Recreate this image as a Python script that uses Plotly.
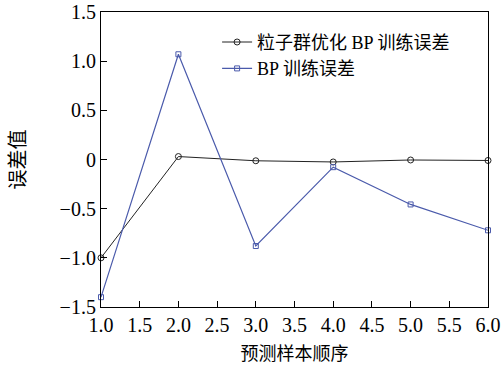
import plotly.graph_objects as go

x_vals = [1, 2, 3, 4, 5, 6]
pso_bp_err = [-1.0, 0.03, -0.013, -0.025, -0.005, -0.01]
bp_err = [-1.40, 1.07, -0.88, -0.078, -0.457, -0.72]
name_pso = "粒子群优化 BP 训练误差"
name_bp = "BP 训练误差"
x_ticks = [1.0, 1.5, 2.0, 2.5, 3.0, 3.5, 4.0, 4.5, 5.0, 5.5, 6.0]
y_ticks = [-1.5, -1.0, -0.5, 0, 0.5, 1.0, 1.5]
y_tick_text = ["−1.5", "−1.0", "−0.5", "0", "0.5", "1.0", "1.5"]

FONT = "Liberation Serif, Times New Roman, Noto Sans CJK SC, serif"

fig = go.Figure()
fig.add_trace(go.Scatter(
    x=x_vals, y=pso_bp_err, name=name_pso, mode="lines+markers",
    line=dict(color="#222222", width=1),
    marker=dict(symbol="circle-open", size=6, color="#222222", line=dict(width=1)),
    cliponaxis=False,
))
fig.add_trace(go.Scatter(
    x=x_vals, y=bp_err, name=name_bp, mode="lines+markers",
    line=dict(color="#4a5aab", width=1.2),
    marker=dict(symbol="square-open", size=5, color="#4a5aab", line=dict(width=1)),
    cliponaxis=False,
))

fig.update_layout(
    width=504, height=376,
    margin=dict(l=101, r=16, t=12, b=69),
    plot_bgcolor="white", paper_bgcolor="white",
    font=dict(family=FONT, size=20, color="black"),
    showlegend=True,
    legend=dict(x=0.3, y=0.96, xanchor="left", yanchor="top",
                bgcolor="rgba(0,0,0,0)", font=dict(size=18, family=FONT),
                itemwidth=30, tracegroupgap=0),
)
fig.update_xaxes(
    range=[1, 6], tickvals=x_ticks, ticktext=[f"{v:.1f}" for v in x_ticks],
    ticks="inside", ticklen=6, tickwidth=1, tickcolor="black",
    showline=True, linecolor="black", linewidth=1.2, mirror=True,
    showgrid=False, zeroline=False, automargin=False,
    title=dict(text="预测样本顺序", font=dict(size=18, family=FONT), standoff=12),
    tickfont=dict(size=20, family=FONT),
)
fig.update_yaxes(
    range=[-1.5, 1.5], tickvals=y_ticks, ticktext=y_tick_text,
    ticks="inside", ticklen=6, tickwidth=1, tickcolor="black",
    showline=True, linecolor="black", linewidth=1.2, mirror=True,
    showgrid=False, zeroline=False, automargin=False,
    title=dict(text="误差值", font=dict(size=20, family=FONT), standoff=28),
    tickfont=dict(size=20, family=FONT),
)
fig.write_html("out.html", config={"displayModeBar": False},
               post_script="document.body.style.margin='0';document.body.style.padding='0';")
